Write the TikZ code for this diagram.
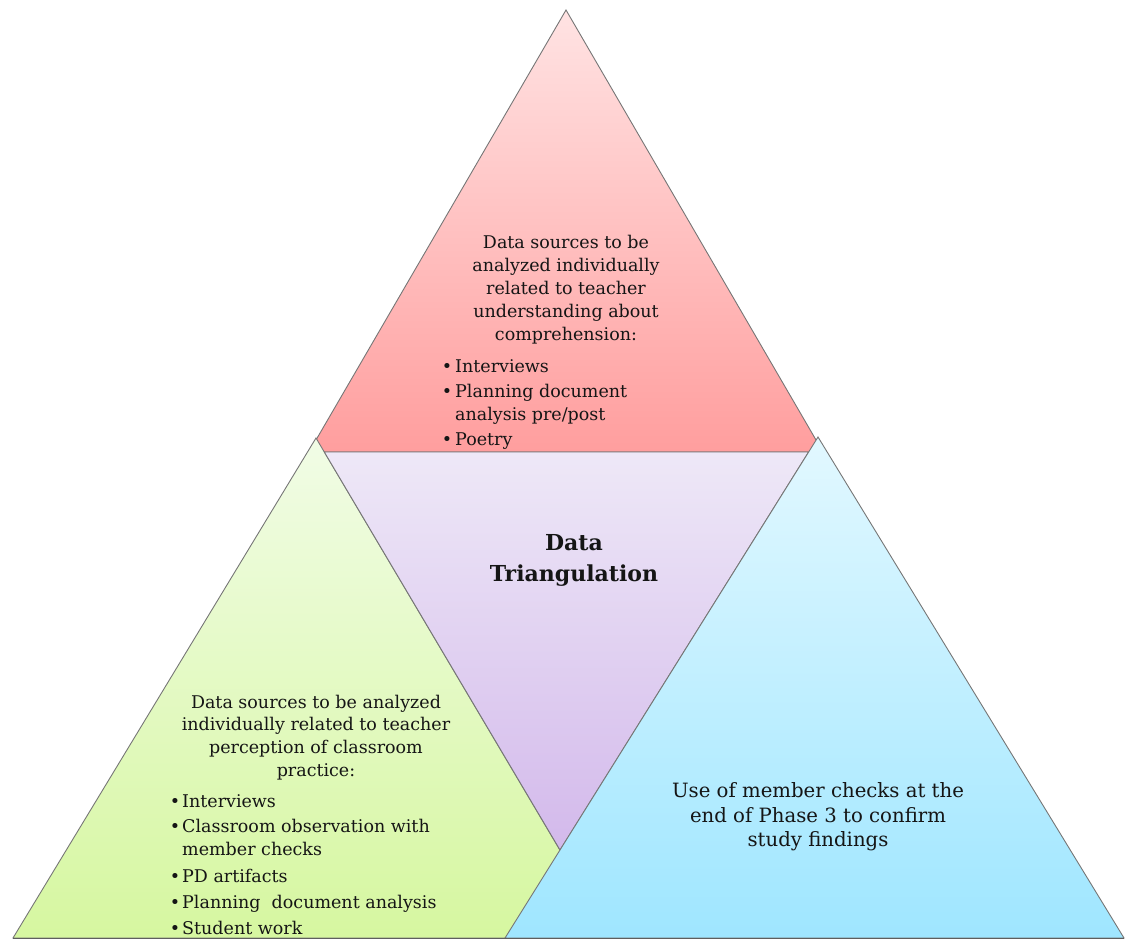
\documentclass[tikz,border=0pt]{standalone}
\usepackage{fontspec}
\setmainfont{DejaVu Serif}
\definecolor{edgegray}{HTML}{767676}
\definecolor{textc}{HTML}{151515}
\definecolor{redtop}{HTML}{FFE3E3}
\definecolor{redbot}{HTML}{FF9E9E}
\definecolor{grntop}{HTML}{F1FCE6}
\definecolor{grnbot}{HTML}{D6F7A0}
\definecolor{purtop}{HTML}{EEE8F7}
\definecolor{purbot}{HTML}{D3B9EB}
\definecolor{blutop}{HTML}{E2F8FF}
\definecolor{blubot}{HTML}{9FE6FF}
\begin{document}
\begin{tikzpicture}[x=1pt,y=-1pt,
  tri/.style={draw=edgegray, line width=0.9pt, line join=miter},
  body/.style={anchor=base, inner sep=0pt, text=textc, font=\fontsize{17.5}{21}\selectfont},
  bodyr/.style={body, anchor=base west},
  blue/.style={body, font=\fontsize{19.7}{24}\selectfont},
  title/.style={body, font=\fontsize{22}{26}\bfseries\selectfont}]
\useasboundingbox (0,0) rectangle (1126,941);

% four triangles, back to front
\path[tri, top color=redtop, bottom color=redbot] (566,10) -- (309,452) -- (823,452) -- cycle;
\path[tri, top color=grntop, bottom color=grnbot] (316,438) -- (13,938) -- (612,938) -- cycle;
\path[tri, top color=purtop, bottom color=purbot] (324.3,452) -- (808.6,452) -- (560,850) -- cycle;
\path[tri, top color=blutop, bottom color=blubot] (818,437) -- (505,938) -- (1124,938) -- cycle;
% darker ground line under the bases
\draw[edgegray!80!black, line width=1.2pt] (13,938.6) -- (1124,938.6);

% top triangle
\node[body] (r1) at (566,249) {Data sources to be};
\node[body] (r2) at (566,271) {analyzed individually};
\node[body] (r3) at (566,294) {related to teacher};
\node[body] (r4) at (566,317) {understanding about};
\node[body] (r5) at (566,340) {comprehension:};
\node[body] (rb1) at (447,372) {•};
\node[bodyr] (ri1) at (455,372) {Interviews};
\node[body] (rb2) at (447,397) {•};
\node[bodyr] (ri2) at (455,397) {Planning document};
\node[bodyr] (ri2b) at (455,420) {analysis pre/post};
\node[body] (rb3) at (447,445) {•};
\node[bodyr] (ri3) at (455,445) {Poetry};

% centre
\node[title] (c1) at (574,550) {Data};
\node[title] (c2) at (574,581) {Triangulation};

% left triangle
\node[body] (g1) at (316,708) {Data sources to be analyzed};
\node[body] (g2) at (316,730) {individually related to teacher};
\node[body] (g3) at (316,753) {perception of classroom};
\node[body] (g4) at (316,776) {practice:};
\node[body] (gb1) at (175,807) {•};
\node[bodyr] (gi1) at (182,807) {Interviews};
\node[body] (gb2) at (175,832) {•};
\node[bodyr] (gi2) at (182,832) {Classroom observation with};
\node[bodyr] (gi2b) at (182,855) {member checks};
\node[body] (gb3) at (175,882) {•};
\node[bodyr] (gi3) at (182,882) {PD artifacts};
\node[body] (gb4) at (175,908) {•};
\node[bodyr] (gi4) at (182,908) {Planning\ \ document analysis};
\node[body] (gb5) at (175,934) {•};
\node[bodyr] (gi5) at (182,934) {Student work};

% right triangle
\node[blue] (b1) at (818,797) {Use of member checks at the};
\node[blue] (b2) at (818,822) {end of Phase 3 to confirm};
\node[blue] (b3) at (818,846) {study findings};
\end{tikzpicture}
\end{document}
